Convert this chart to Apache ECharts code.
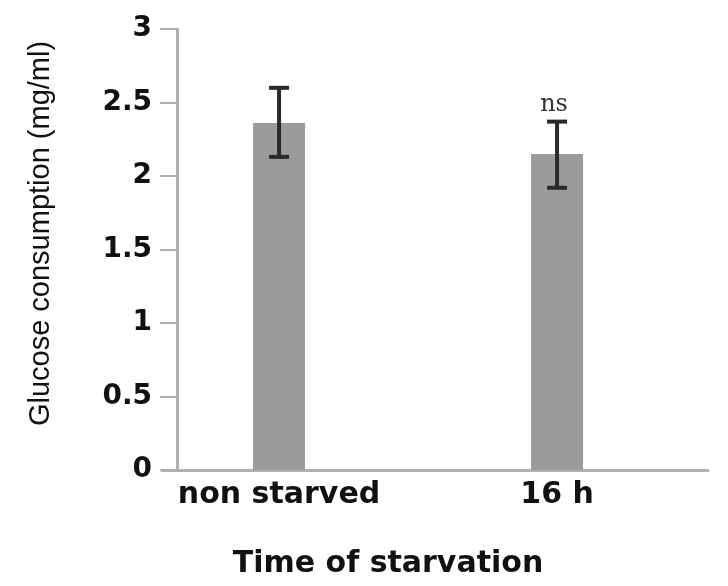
<!DOCTYPE html>
<html>
<head>
<meta charset="utf-8">
<script src="https://cdn.jsdelivr.net/npm/echarts@6/dist/echarts.min.js"></script>
<style>html,body{margin:0;padding:0;background:#fff}#c{width:728px;height:586px}</style>
</head>
<body>
<div id="c"></div>
<script>
const categories = ['non starved', '16 h'];
const means = [2.36, 2.15];
const errLow = [2.13, 1.92];
const errHigh = [2.60, 2.37];
const sigLabels = ['', 'ns'];
const yTicks = [0, 0.5, 1, 1.5, 2, 2.5, 3];

const chart = echarts.init(document.getElementById('c'));
const barData = categories.map((c, i) => [i, means[i]]);
const errData = categories.map((c, i) => [i, errLow[i], errHigh[i], sigLabels[i]]);

chart.setOption({
  animation: false,
  backgroundColor: '#fff',
  grid: { left: 162, right: 20, top: 29, bottom: 116 },
  xAxis: {
    type: 'value',
    min: -0.421, max: 1.543,
    splitLine: { show: false },
    axisTick: { show: false },
    axisLine: { show: true, onZero: false, lineStyle: { color: '#b0b0b0', width: 3 } },
    axisLabel: {
      customValues: [0, 1],
      formatter: v => categories[Math.round(v)],
      margin: 10,
      fontFamily: 'DejaVu Sans', fontWeight: 'bold', fontSize: 30, color: '#111'
    },
    name: 'Time of starvation',
    nameLocation: 'middle',
    nameGap: 79,
    nameTextStyle: { fontFamily: 'DejaVu Sans', fontWeight: 'bold', fontSize: 30, color: '#111', padding: [0, 94, 0, 0] }
  },
  yAxis: {
    type: 'value',
    min: yTicks[0], max: yTicks[yTicks.length - 1], interval: 0.5,
    offset: -15,
    splitLine: { show: false },
    axisLine: { show: true, onZero: false, lineStyle: { color: '#b0b0b0', width: 3 } },
    axisTick: { show: true, length: 17, lineStyle: { color: '#b0b0b0', width: 2 } },
    axisLabel: { margin: 25, fontFamily: 'DejaVu Sans', fontWeight: 'bold', fontSize: 28, color: '#111' },
    name: 'Glucose consumption (mg/ml)',
    nameLocation: 'middle',
    nameRotate: 90,
    nameGap: 122,
    nameTextStyle: { fontFamily: 'Liberation Sans', fontSize: 29, color: '#111', padding: [0, 0, 0, 32] }
  },
  series: [
    {
      type: 'bar',
      data: barData,
      barWidth: 52,
      itemStyle: { color: '#9b9b9b' }
    },
    {
      type: 'custom',
      data: errData,
      z: 10,
      renderItem: function (params, api) {
        const x = api.value(0);
        const lo = api.coord([x, api.value(1)]);
        const hi = api.coord([x, api.value(2)]);
        const hw = 10;
        const st = { stroke: '#2a2a2a', lineWidth: 4 };
        const children = [
          { type: 'line', shape: { x1: hi[0], y1: hi[1], x2: lo[0], y2: lo[1] }, style: st },
          { type: 'line', shape: { x1: hi[0] - hw, y1: hi[1], x2: hi[0] + hw, y2: hi[1] }, style: st },
          { type: 'line', shape: { x1: lo[0] - hw, y1: lo[1], x2: lo[0] + hw, y2: lo[1] }, style: st }
        ];
        const lab = sigLabels[params.dataIndex];
        if (lab) {
          children.push({
            type: 'text',
            style: {
              text: lab, x: hi[0] - 3, y: hi[1] - 5,
              align: 'center', verticalAlign: 'bottom',
              font: '24px "DejaVu Serif"', fill: '#333'
            }
          });
        }
        return { type: 'group', children: children };
      }
    }
  ]
});
</script>
</body>
</html>
